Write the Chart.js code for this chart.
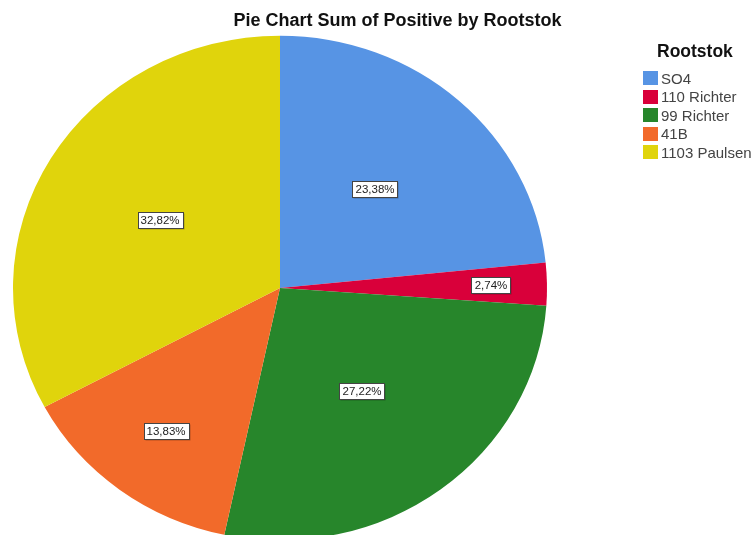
<!DOCTYPE html>
<html>
<head>
<meta charset="utf-8">
<script src="https://cdn.jsdelivr.net/npm/chart.js@4/dist/chart.umd.min.js"></script>
<style>
  html, body { margin: 0; padding: 0; background: #fff; overflow: hidden; }
  #wrap { position: relative; width: 754px; height: 535px; overflow: hidden; }
  #pie { position: absolute; left: 0; top: 0; }
  .title { position: absolute; left: 0; top: 10px; width: 795px; text-align: center;
    font: bold 18px "Liberation Sans", Arial, sans-serif; color: #111; }
  .legend { position: absolute; left: 643px; top: 41px; font-family: "Liberation Sans", Arial, sans-serif; }
  .legend h4 { margin: 0 0 7px 14px; font-size: 17.5px; font-weight: bold; color: #111; white-space: nowrap; }
  .legend .row { display: flex; align-items: center; height: 18.5px; font-size: 15px; color: #444; white-space: nowrap; }
  .legend .sw { width: 15px; height: 14px; margin-right: 3px; flex: none; }
</style>
</head>
<body>
<div id="wrap">
  <canvas id="pie" width="754" height="576"></canvas>
  <div class="title">Pie Chart Sum of Positive by Rootstok</div>
  <div class="legend" id="legend"></div>
</div>
<script>
const rootstocks = ['SO4', '110 Richter', '99 Richter', '41B', '1103 Paulsen'];
const positiveShare = [23.38, 2.74, 27.22, 13.83, 32.82];
const sliceColors = ['#5794e4', '#d9003a', '#27862b', '#f26a2a', '#e0d40c'];

const fmtPct = v => v.toFixed(2).replace('.', ',') + '%';

// legend
document.getElementById('legend').innerHTML = '<h4>Rootstok</h4>' + rootstocks.map((r, i) =>
  `<div class="row"><span class="sw" style="background:${sliceColors[i]}"></span>${r}</div>`).join('');

// the exported pie is a little flatter than round
const SQUASH = 0.945;
const squashPlugin = {
  id: 'squash',
  beforeDatasetsDraw(chart) {
    const a = chart.getDatasetMeta(0).data[0];
    const ctx = chart.ctx;
    ctx.save();
    ctx.translate(0, a.y);
    ctx.scale(1, SQUASH);
    ctx.translate(0, -a.y);
  },
  afterDatasetsDraw(chart) { chart.ctx.restore(); }
};

// boxed value labels, radius as a fraction of the pie radius
const labelRadius = [0.53, 0.79, 0.51, 0.71, 0.522];
const boxLabels = {
  id: 'boxLabels',
  afterDraw(chart) {
    const ctx = chart.ctx;
    ctx.save();
    ctx.font = '11.5px "Liberation Sans", Arial, sans-serif';
    ctx.textAlign = 'center';
    ctx.textBaseline = 'middle';
    chart.getDatasetMeta(0).data.forEach((arc, i) => {
      const mid = (arc.startAngle + arc.endAngle) / 2;
      const r = arc.outerRadius * labelRadius[i];
      const x = arc.x + Math.cos(mid) * r;
      const y = arc.y + Math.sin(mid) * r * SQUASH;
      const txt = fmtPct(positiveShare[i]);
      const w = Math.round(ctx.measureText(txt).width) + 6;
      const h = 16;
      const bx = Math.round(x - w / 2) + 0.5, by = Math.round(y - h / 2) + 0.5;
      ctx.fillStyle = 'rgba(0,0,0,0.25)';
      ctx.fillRect(bx + 1, by + 1, w, h);
      ctx.fillStyle = '#fff';
      ctx.fillRect(bx, by, w, h);
      ctx.strokeStyle = '#444';
      ctx.lineWidth = 1;
      ctx.strokeRect(bx, by, w, h);
      ctx.fillStyle = '#222';
      ctx.fillText(txt, Math.round(x), Math.round(y) + 1);
    });
    ctx.restore();
  }
};

new Chart(document.getElementById('pie'), {
  type: 'pie',
  data: {
    labels: rootstocks,
    datasets: [{ data: positiveShare, backgroundColor: sliceColors, borderWidth: 0 }]
  },
  options: {
    responsive: false,
    animation: false,
    layout: { padding: { left: 13, right: 207, top: 21, bottom: 21 } },
    plugins: { legend: { display: false }, title: { display: false }, tooltip: { enabled: false } }
  },
  plugins: [squashPlugin, boxLabels]
});
</script>
</body>
</html>
